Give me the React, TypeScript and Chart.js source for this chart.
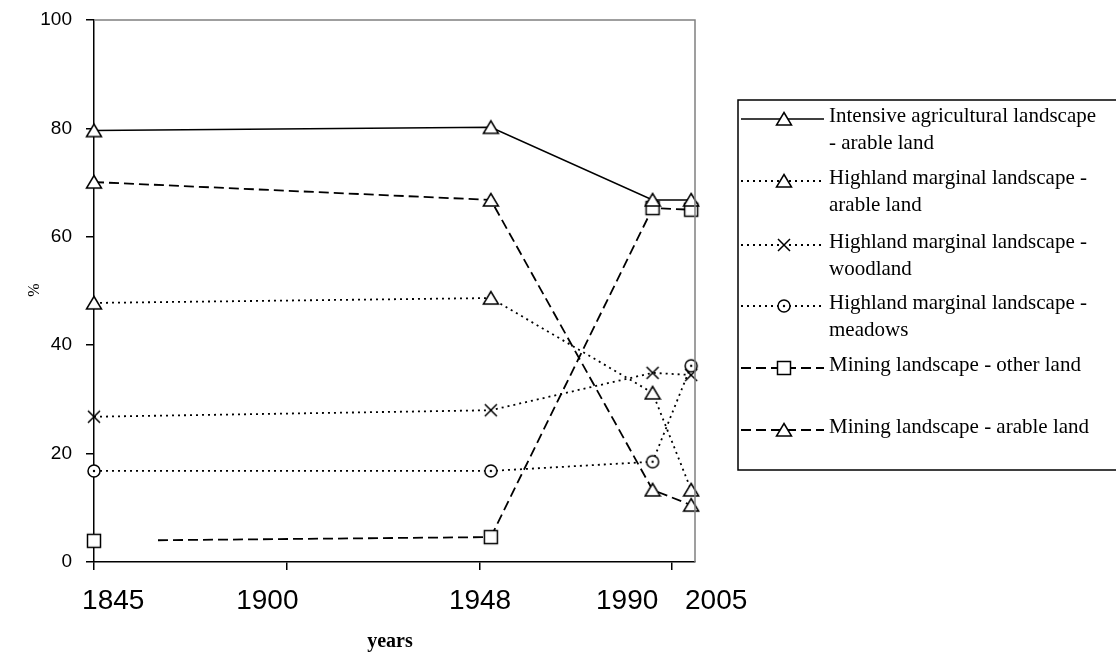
import React, { useEffect, useRef } from 'react';
import { Chart, registerables } from 'chart.js';

Chart.register(...registerables);

// ---- data ----
const years = [1845, 1948, 1990, 2005];
// horizontal positions at which the source chart plots those observations on its linear year axis
const plotYears = [1845, 1948, 1990, 2000];

const intensiveArable = [79.6, 80.2, 66.8, 66.8];
const highlandArable = [47.8, 48.7, 31.2, 13.3];
const highlandWoodland = [26.8, 28.0, 34.9, 34.5];
const highlandMeadows = [16.8, 16.8, 18.5, 36.2];
const miningOther = [3.9, 4.6, 65.3, 65.0];
const miningArable = [70.1, 66.8, 13.3, 10.5];

const yMin = 0;
const yMax = 100;
const yStep = 20;
const xTickMarks = [1845, 1895, 1945, 1995];
const xLabels = ['1845', '1900', '1948', '1990', '2005'];
const xLabelAt = [1850, 1890, 1945.2, 1983.4, 2006.5];

const legendLines = [
  ['Intensive agricultural landscape', '- arable land'],
  ['Highland marginal landscape -', 'arable land'],
  ['Highland marginal landscape -', 'woodland'],
  ['Highland marginal landscape -', 'meadows'],
  ['Mining landscape - other land'],
  ['Mining landscape - arable land'],
];

// ---- layout / style ----
const W = 1116;
const H = 653;
const DOT = [2, 4];
const DASH = [10, 5];
const legendRowY = [116, 178, 242, 303, 365, 427];
// the source draws the first "other land" segment starting some way right of its first marker
const LEAD_GAP_DASH: number[] = (() => {
  const a = [0, 64];
  for (let i = 0; i < 40; i++) a.push(10, 5);
  a.push(0, 2000);
  return a;
})();

function makeMarker(kind: string): HTMLCanvasElement {
  const c = document.createElement('canvas');
  c.width = 18;
  c.height = 18;
  const g = c.getContext('2d')!;
  g.strokeStyle = '#000';
  g.fillStyle = '#fff';
  g.lineWidth = 1.5;
  const cx = 9, cy = 9;
  if (kind === 'tri') {
    g.beginPath();
    g.moveTo(cx, cy - 6.5);
    g.lineTo(cx + 7.5, cy + 6);
    g.lineTo(cx - 7.5, cy + 6);
    g.closePath();
    g.fill();
    g.stroke();
  } else if (kind === 'x') {
    g.beginPath();
    g.moveTo(cx - 6, cy - 6);
    g.lineTo(cx + 6, cy + 6);
    g.moveTo(cx + 6, cy - 6);
    g.lineTo(cx - 6, cy + 6);
    g.stroke();
  } else if (kind === 'circle') {
    g.beginPath();
    g.arc(cx, cy, 6, 0, Math.PI * 2);
    g.fill();
    g.stroke();
    g.fillStyle = '#000';
    g.beginPath();
    g.arc(cx, cy, 1.2, 0, Math.PI * 2);
    g.fill();
  } else {
    g.beginPath();
    g.rect(cx - 6.5, cy - 6.5, 13, 13);
    g.fill();
    g.stroke();
  }
  return c;
}

export default function App() {
  const ref = useRef<HTMLCanvasElement | null>(null);

  useEffect(() => {
    if (!ref.current) return;
    const tri = makeMarker('tri');
    const cross = makeMarker('x');
    const circ = makeMarker('circle');
    const sq = makeMarker('square');

    const mk = (label: string, vals: number[], dash: number[], marker: HTMLCanvasElement, width: number, extra: any = {}) => ({
      label,
      data: vals.map((v, i) => ({ x: plotYears[i], y: v, year: years[i] })),
      borderColor: '#000',
      backgroundColor: '#fff',
      borderWidth: width,
      borderDash: dash,
      pointStyle: marker,
      pointRadius: 6,
      clip: false as any,
      tension: 0,
      ...extra,
    });

    const datasets = [
      mk('Intensive agricultural landscape - arable land', intensiveArable, [], tri, 1.6),
      mk('Highland marginal landscape - arable land', highlandArable, DOT, tri, 1.8),
      mk('Highland marginal landscape - woodland', highlandWoodland, DOT, cross, 1.8),
      mk('Highland marginal landscape - meadows', highlandMeadows, DOT, circ, 1.8),
      mk('Mining landscape - other land', miningOther, DASH, sq, 1.8, {
        segment: { borderDash: (c: any) => (c.p0DataIndex === 0 ? LEAD_GAP_DASH : undefined) },
      }),
      mk('Mining landscape - arable land', miningArable, DASH, tri, 1.8),
    ];
    const markers = [tri, tri, cross, circ, sq, tri];

    const overlay = {
      id: 'overlay',
      afterDraw(chart: any) {
        const { ctx, chartArea, scales } = chart;
        ctx.save();
        // grey top/right border of plot area
        ctx.strokeStyle = '#808080';
        ctx.lineWidth = 1.5;
        ctx.beginPath();
        ctx.moveTo(chartArea.left, chartArea.top);
        ctx.lineTo(chartArea.right, chartArea.top);
        ctx.lineTo(chartArea.right, chartArea.bottom);
        ctx.stroke();

        // x labels
        ctx.fillStyle = '#000';
        ctx.font = '28px "Liberation Sans", Arial, sans-serif';
        ctx.textAlign = 'center';
        ctx.textBaseline = 'middle';
        xLabels.forEach((t, i) => {
          ctx.fillText(t, scales.x.getPixelForValue(xLabelAt[i]), 601);
        });
        // axis titles
        ctx.font = 'bold 20px "Liberation Serif", "Times New Roman", serif';
        ctx.fillText('years', 390, 642);
        ctx.save();
        ctx.translate(35, 290);
        ctx.rotate(-Math.PI / 2);
        ctx.font = '16px "Liberation Serif", "Times New Roman", serif';
        ctx.fillText('%', 0, 0);
        ctx.restore();

        // legend
        ctx.strokeStyle = '#000';
        ctx.lineWidth = 1.5;
        ctx.strokeRect(738, 100, 420, 370);
        ctx.font = '21px "Liberation Serif", "Times New Roman", serif';
        ctx.textAlign = 'left';
        legendLines.forEach((lines, i) => {
          const y = legendRowY[i];
          const ds = datasets[i];
          ctx.save();
          ctx.strokeStyle = '#000';
          ctx.lineWidth = ds.borderWidth;
          ctx.setLineDash(ds.borderDash);
          ctx.beginPath();
          ctx.moveTo(741, y + 3);
          ctx.lineTo(824, y + 3);
          ctx.stroke();
          ctx.restore();
          const m = markers[i];
          ctx.drawImage(m, 784 - m.width / 2, y + 3 - m.height / 2);
          lines.forEach((t, j) => ctx.fillText(t, 829, y + j * 27));
        });
        ctx.restore();
      },
    };

    const chart = new Chart(ref.current, {
      type: 'line',
      data: { datasets: datasets as any },
      options: {
        responsive: false,
        maintainAspectRatio: false,
        animation: false,
        devicePixelRatio: 1,
        layout: { padding: { left: 0, top: 20, right: W - 695, bottom: 0 } },
        plugins: { legend: { display: false }, tooltip: { enabled: false } },
        scales: {
          x: {
            type: 'linear',
            min: 1845,
            max: 2001,
            afterBuildTicks: (s: any) => {
              s.ticks = xTickMarks.map((v) => ({ value: v }));
            },
            afterFit: (s: any) => {
              s.height = H - 562;
              s.paddingLeft = 0;
              s.paddingRight = 0;
            },
            ticks: { callback: () => '', font: { size: 1 } },
            grid: { drawOnChartArea: false, drawTicks: true, tickLength: 8, color: '#000', lineWidth: 1.5 },
            border: { color: '#000', width: 1.5 },
          },
          y: {
            min: yMin,
            max: yMax,
            afterFit: (s: any) => {
              s.width = 94;
              s.paddingTop = 0;
              s.paddingBottom = 0;
            },
            ticks: {
              stepSize: yStep,
              color: '#000',
              padding: 14,
              font: { family: '"Liberation Sans", Arial, sans-serif', size: 19 },
            },
            grid: { drawOnChartArea: false, drawTicks: true, tickLength: 8, color: '#000', lineWidth: 1.5 },
            border: { color: '#000', width: 1.5 },
          },
        },
      },
      plugins: [overlay],
    });
    return () => chart.destroy();
  }, []);

  return (
    <div style={{ position: 'fixed', left: 0, top: 0, width: W, height: H, background: '#fff' }}>
      <canvas ref={ref} width={W} height={H} style={{ width: W, height: H, display: 'block' }} />
    </div>
  );
}
